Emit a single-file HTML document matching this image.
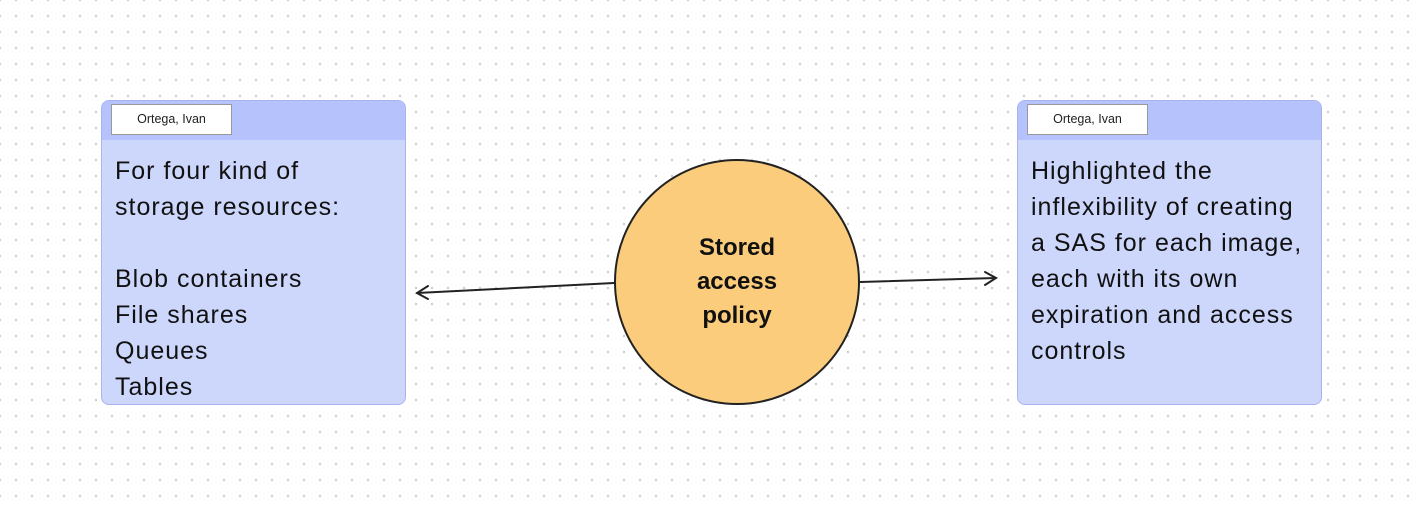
<!DOCTYPE html>
<html><head><meta charset="utf-8"><style>
html,body{margin:0;padding:0}
body{width:1420px;height:506px;position:relative;overflow:hidden;background-color:#fff;
background-image:radial-gradient(circle,#c8c8c8 1px,transparent 1.3px);background-size:16px 16px;background-position:-8px -8px;
font-family:"Liberation Sans",sans-serif}
.card{position:absolute;top:100px;width:305px;height:305px;background:#cdd6fb;border:1px solid #a9b4ee;border-radius:8px;box-sizing:border-box;overflow:hidden}
.hdr{position:absolute;left:0;top:0;right:0;height:39px;background:#b6c2fc}
.name{position:absolute;left:9px;top:3px;width:121px;height:31px;background:#fff;border:1px solid #999;box-sizing:border-box;font-size:12.5px;line-height:29px;text-align:center;color:#222}
.txt{position:absolute;left:13px;top:52px;font-size:25px;line-height:36px;color:#111;white-space:nowrap;letter-spacing:1px}
.circ{position:absolute;left:614px;top:159px;width:246px;height:246px;border-radius:50%;background:#fbcc7c;border:2px solid #222;box-sizing:border-box;display:flex;align-items:center;justify-content:center;text-align:center;font-weight:bold;font-size:24px;line-height:34px;color:#111}
svg{position:absolute;left:0;top:0}
</style></head><body>
<svg width="1420" height="506">
<g stroke="#222" stroke-width="2" fill="none" stroke-linecap="round">
<line x1="614" y1="283" x2="417" y2="293"/>
<polyline points="428,286 417,293 428,299"/>
<line x1="860" y1="282" x2="996" y2="278"/>
<polyline points="985,272 996,278 985,285"/>
</g></svg>
<div class="card" style="left:101px"><div class="hdr"></div><div class="name">Ortega, Ivan</div>
<div class="txt">For four kind of<br>storage resources:<br><br>Blob containers<br>File shares<br>Queues<br>Tables</div></div>
<div class="card" style="left:1017px"><div class="hdr"></div><div class="name">Ortega, Ivan</div>
<div class="txt">Highlighted the<br>inflexibility of creating<br>a SAS for each image,<br>each with its own<br>expiration and access<br>controls</div></div>
<div class="circ"><div>Stored<br>access<br>policy</div></div>
</body></html>
